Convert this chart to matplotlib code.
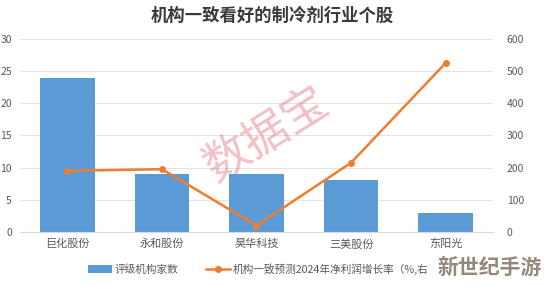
import matplotlib
matplotlib.use("Agg")
import matplotlib.pyplot as plt
import numpy as np

plt.rcParams['font.family'] = ['Noto Sans CJK SC', 'DejaVu Sans']

categories = ['巨化股份', '永和股份', '昊华科技', '三美股份', '东阳光']
ratings = [24, 9, 9, 8, 3]
growth = [190, 195, 20, 215, 525]
left_ticks = [0, 5, 10, 15, 20, 25, 30]
right_ticks = [0, 100, 200, 300, 400, 500, 600]

fig = plt.figure(figsize=(5.44, 2.86), dpi=100)
ax = fig.add_axes([0.037, 0.189, 0.869, 0.675])
x = np.arange(len(categories))
ax.bar(x, ratings, width=0.58, color='#5B9BD5', zorder=2, label='评级机构家数')
ax.set_ylim(0, 30)
ax.set_xlim(-0.5, len(categories) - 0.5)
ax.set_yticks(left_ticks)
ax.grid(axis='y', color='#e3e3e3', linewidth=0.8, zorder=0)
for s in ax.spines.values():
    s.set_visible(False)
ax.spines['bottom'].set_visible(True)
ax.spines['bottom'].set_color('#d9d9d9')
ax.tick_params(axis='both', length=0, colors='#595959', labelsize=7.5)
ax.tick_params(axis='y', pad=6)
ax.set_xticks(x)
ax.set_xticklabels(categories, fontsize=8)
ax.tick_params(axis='x', pad=5)

ax2 = ax.twinx()
ax2.plot(x, growth, color='#ED7D31', linewidth=1.8, marker='o', markersize=4,
         label='机构一致预测2024年净利润增长率（%,右', zorder=3)
ax2.set_ylim(0, 600)
ax2.set_yticks(right_ticks)
for s in ax2.spines.values():
    s.set_visible(False)
ax2.tick_params(axis='y', length=0, colors='#595959', labelsize=7.5, pad=10)

fig.text(0.5, 0.945, '机构一致看好的制冷剂行业个股', ha='center', va='center',
         fontsize=12.5, fontweight='bold', color='#3a3a3a')

h1, l1 = ax.get_legend_handles_labels()
h2, l2 = ax2.get_legend_handles_labels()
fig.legend(h1 + h2, l1 + l2, loc='center', bbox_to_anchor=(0.475, 0.06), ncol=2,
           frameon=False, fontsize=7.7, labelcolor='#595959', handlelength=2.2,
           columnspacing=2.6, handletextpad=0.3)

# watermarks
fig.text(0.49, 0.53, '数据宝', rotation=32, fontsize=33, color='#e06070', alpha=0.4,
         ha='center', va='center')
fig.text(0.9, 0.065, '新世纪手游', fontsize=15, fontweight='bold', color='#8a7a6a',
         ha='center', va='center', alpha=0.9)

fig.savefig('out.png', dpi=100)
